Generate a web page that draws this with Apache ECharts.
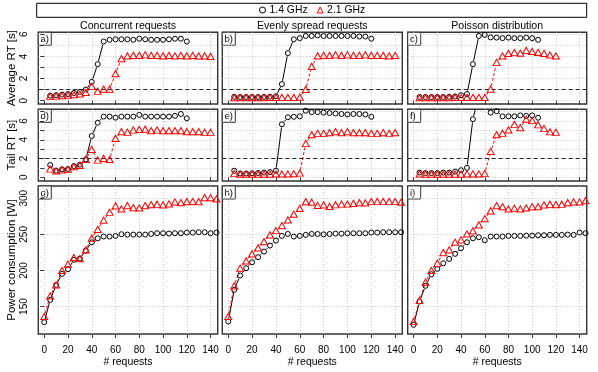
<!DOCTYPE html>
<html><head><meta charset="utf-8">
<script src="https://cdn.jsdelivr.net/npm/echarts@6/dist/echarts.min.js"></script>
<style>html,body{margin:0;padding:0;background:#fff}#c{width:598px;height:372px}</style>
</head><body><div id="c"></div>
<script>
// ---------- data ----------
const xRT = [5,10,15,20,25,30,35,40,45,50,55,60,65,70,75,80,85,90,95,100,105,110,115,120,125,130,135,140];
const xPow = [0,5,10,15,20,25,30,35,40,45,50,55,60,65,70,75,80,85,90,95,100,105,110,115,120,125,130,135,140,145];

const colTitles = ['Concurrent requests','Evenly spread requests','Poisson distribution'];
const rowNames = ['Average RT [s]','Tail RT [s]','Power consumption [W]'];
const panelTags = ['a)','b)','c)','d)','e)','f)','g)','h)','i)'];
const legendNames = ['1.4 GHz','2.1 GHz'];
const xTickVals = [0,20,40,60,80,100,120,140];
const avgTickVals = [0,2,4,6];
const avgMinorTicks = [0,1,2,3,4,5,6];
const tailTickVals = [0,2,4,6];
const tailMinorTicks = [0,1,2,3,4,5,6,7];
const powTickVals = [150,200,250,300];
const thresholds = [1, 2];

const avgConc14 = [0.45,0.5,0.55,0.6,0.7,0.8,1.0,1.7,3.3,5.35,5.5,5.55,5.55,5.55,5.5,5.6,5.55,5.5,5.5,5.5,5.55,5.6,5.6,5.35];
const avgConc21 = [0.4,0.42,0.45,0.5,0.55,0.62,0.75,1.3,0.85,1.05,1.05,2.45,3.8,4.05,4.1,4.1,4.15,4.1,4.1,4.05,4.1,4.05,4.1,4.05,4.1,4.05,4.05,4.0];
const avgEven14 = [0.35,0.33,0.33,0.33,0.33,0.34,0.36,0.4,1.5,4.3,5.55,5.65,5.85,5.85,5.9,5.85,5.85,5.85,5.85,5.85,5.85,5.8,5.8,5.6];
const avgEven21 = [0.28,0.28,0.28,0.28,0.28,0.28,0.29,0.29,0.3,0.3,0.3,0.32,1.02,3.1,4.05,4.1,4.1,4.15,4.1,4.15,4.1,4.1,4.15,4.1,4.1,4.1,4.05,4.1];
const avgPois14 = [0.33,0.33,0.33,0.33,0.33,0.35,0.38,0.5,0.6,3.3,5.85,5.95,5.72,5.7,5.65,5.7,5.65,5.65,5.7,5.65,5.5];
const avgPois21 = [0.28,0.28,0.28,0.28,0.28,0.28,0.29,0.29,0.3,0.3,0.3,0.3,1.05,3.45,4.04,4.28,4.35,4.3,4.55,4.45,4.37,4.28,4.13,4.04];

const tailConc14 = [1.31,0.7,0.85,0.88,1.2,1.34,1.91,4.4,5.82,6.47,6.47,6.36,6.47,6.47,6.47,6.65,6.47,6.47,6.47,6.47,6.47,6.55,6.75,6.29];
const tailConc21 = [0.88,0.67,0.78,0.85,1.13,1.27,1.91,2.98,1.84,2.02,1.91,4.15,4.87,4.8,5.04,5.1,5.14,4.97,5.04,4.97,4.97,4.97,4.97,4.87,4.87,4.87,4.8,4.8];
const tailEven14 = [0.7,0.4,0.4,0.42,0.45,0.5,0.55,0.7,5.65,6.4,6.45,6.5,7.1,6.95,6.95,6.9,6.85,6.8,6.75,6.7,6.75,6.75,6.7,6.45];
const tailEven21 = [0.4,0.33,0.33,0.33,0.33,0.33,0.33,0.35,0.35,0.35,0.38,0.45,3.6,4.55,4.69,4.69,4.76,4.87,4.76,4.87,4.76,4.76,4.76,4.69,4.69,4.76,4.69,4.76];
const tailPois14 = [0.5,0.45,0.45,0.45,0.5,0.5,0.6,0.75,1.0,6.2,8.8,7.5,6.9,7.05,6.5,6.5,6.5,6.6,6.55,6.6,6.35];
const tailPois21 = [0.35,0.33,0.33,0.33,0.33,0.33,0.33,0.33,0.35,0.35,0.35,0.4,2.75,4.55,4.69,5.05,5.65,5.3,6.19,6.05,5.6,5.2,4.85,4.8];

const powConc14 = [128.4,159.3,180,195.3,201.8,214.7,216.5,227.6,239,244.6,247,247,247.9,250.2,249.7,249.7,249.7,249.7,250.6,251.6,251.6,251.1,251.6,251.6,252.5,252.5,253,253,251.6,252.5];
const powConc21 = [136.3,164.9,180,200,208.7,218,216.5,228.5,244.6,257,269.6,280.6,289.4,285.2,289.9,287,286.6,289.9,291.2,291.7,290.8,292.2,294.9,294,295.4,295.8,295.4,300.9,300.9,299];
const powEven14 = [129.3,173.2,193,203.1,211.4,218.4,226.2,234.5,241.4,247.9,250.6,247,247.9,249.3,250.6,250.5,250,250.5,251,251,251.5,251.5,251.5,251.5,252.5,252.5,253,253,253,253];
const powEven21 = [136.3,178.7,203.1,213.3,223,231.3,240,249.3,255.3,262.2,270,277.9,286,295.4,294.5,290,290.8,288.7,291,292,292,293,294,293.5,295.5,295.5,295.5,295.5,295.5,294.5];
const powPois14 = [124.7,157,178.7,194.8,202.2,210,216,223,230.8,239.1,244.6,246,241.9,247,247,247,247.9,247.9,247.9,248.3,248.3,248.8,248.8,249.3,249.3,249.3,249.7,249.3,252.5,251.6];
const powPois21 = [129.3,158.4,183.8,200,210,224.8,228.5,239.1,242.3,250.6,254.8,263.1,271.9,282.5,289.9,288.5,285.2,286.2,285.2,286.6,288.5,288.5,290.8,291.7,291.2,291.7,294,294.9,294.9,296.8];

// ---------- layout / style ----------
const FONT = 'Liberation Sans, Arial, Helvetica, sans-serif';
const colL = [38.3, 222.3, 407.7];
const colW = [179.4, 180, 179];
const rowT = [32.3, 109.3, 186];
const rowH = [71.7, 71.7, 148];
const yMin = [-0.3, -0.4, 112];
const yMax = [6.18, 7.25, 317];
const yStep = [1, 1, 50];
const yLabelVals = [avgTickVals, tailTickVals, powTickVals];
const yTickVals = [avgMinorTicks, tailMinorTicks, powTickVals];
const BLACK = '#000000', RED = '#ff0000';

const panels = [
  [xRT, avgConc14, avgConc21], [xRT, avgEven14, avgEven21], [xRT, avgPois14, avgPois21],
  [xRT, tailConc14, tailConc21], [xRT, tailEven14, tailEven21], [xRT, tailPois14, tailPois21],
  [xPow, powConc14, powConc21], [xPow, powEven14, powEven21], [xPow, powPois14, powPois21]
];

function pts(xs, ys) { return ys.map((y, i) => [xs[i], y]); }
function segs(xs, ys) {
  const out = [];
  for (let i = 0; i < ys.length - 1; i++) out.push([xs[i], ys[i], xs[i + 1], ys[i + 1]]);
  return out;
}
function segRenderer(gap, color, dash) {
  return function (params, api) {
    const p0 = api.coord([api.value(0), api.value(1)]);
    const p1 = api.coord([api.value(2), api.value(3)]);
    const dx = p1[0] - p0[0], dy = p1[1] - p0[1];
    const d = Math.hypot(dx, dy);
    if (d <= 2 * gap + 0.5) return null;
    const ux = dx / d, uy = dy / d;
    const cs = params.coordSys;
    return {
      type: 'group',
      clipPath: { type: 'rect', shape: { x: cs.x, y: cs.y, width: cs.width, height: cs.height } },
      children: [{
        type: 'line',
        shape: { x1: p0[0] + ux * gap, y1: p0[1] + uy * gap, x2: p1[0] - ux * gap, y2: p1[1] - uy * gap },
        style: { stroke: color, lineWidth: 1, lineDash: dash }
      }]
    };
  };
}

const grids = [], xAxes = [], yAxes = [], series = [], graphics = [];
for (let r = 0; r < 3; r++) {
  for (let c = 0; c < 3; c++) {
    const idx = r * 3 + c;
    grids.push({ left: colL[c], top: rowT[r], width: colW[c], height: rowH[r], show: true,
      borderColor: '#333', borderWidth: 1.4, backgroundColor: 'transparent', containLabel: false });
    xAxes.push({
      type: 'value', gridIndex: idx, min: -5, max: 146, minInterval: 20, maxInterval: 20,
      axisLine: { show: false },
      axisTick: { show: true, length: 4, customValues: xTickVals, lineStyle: { color: '#333', width: 1 } },
      axisLabel: { show: r === 2, customValues: xTickVals, fontSize: 10, color: '#000', fontFamily: FONT, margin: 11 },
      splitLine: { show: true, lineStyle: { color: '#bdbdbd', width: 0.9, type: [1, 2] } },
      name: r === 2 ? '# requests' : '', nameLocation: 'middle', nameGap: 23,
      nameTextStyle: { fontSize: 10.5, color: '#000', fontFamily: FONT }
    });
    yAxes.push({
      type: 'value', gridIndex: idx, min: yMin[r], max: yMax[r], minInterval: yStep[r], maxInterval: yStep[r],
      axisLine: { show: false },
      axisTick: { show: c === 0, length: 4, customValues: yTickVals[r], lineStyle: { color: '#333', width: 1 } },
      axisLabel: { show: c === 0, customValues: yLabelVals[r], rotate: 90, fontSize: 10, color: '#000', fontFamily: FONT, margin: 9 },
      splitLine: { show: true, lineStyle: { color: '#bdbdbd', width: 0.9, type: [1, 2] } },
      name: c === 0 ? rowNames[r] : '', nameLocation: 'middle', nameGap: 20, nameRotate: 90,
      nameTextStyle: { fontSize: 11.5, color: '#000', fontFamily: FONT }
    });
    const [xs, y14, y21] = panels[idx];
    series.push({
      type: 'custom', xAxisIndex: idx, yAxisIndex: idx, clip: true, silent: true,
      renderItem: segRenderer(3.3, BLACK, null), data: segs(xs, y14), z: 3
    });
    series.push({
      type: 'custom', xAxisIndex: idx, yAxisIndex: idx, clip: true, silent: true,
      renderItem: segRenderer(3.3, RED, [3, 2]), data: segs(xs, y21), z: 3
    });
    series.push({
      type: 'scatter', name: legendNames[0], xAxisIndex: idx, yAxisIndex: idx, clip: true,
      symbol: 'circle', symbolSize: 5,
      itemStyle: { color: 'rgba(0,0,0,0)', borderColor: BLACK, borderWidth: 1, opacity: 1 },
      data: pts(xs, y14), z: 4, silent: true
    });
    const red = {
      type: 'scatter', name: legendNames[1], xAxisIndex: idx, yAxisIndex: idx, clip: true,
      symbol: 'triangle', symbolSize: [7, 6.2],
      itemStyle: { color: 'rgba(0,0,0,0)', borderColor: RED, borderWidth: 1, opacity: 1 },
      data: pts(xs, y21), z: 5, silent: true
    };
    if (r < 2) {
      red.markLine = {
        silent: true, symbol: 'none', label: { show: false },
        lineStyle: { color: '#222', width: 1.2, type: [4, 3] },
        data: [{ yAxis: thresholds[r] }]
      };
    }
    series.push(red);

    graphics.push({
      type: 'group', x: colL[c], y: rowT[r], z: 100,
      children: [
        { type: 'rect', shape: { x: 0, y: 0, width: 13, height: 13 }, style: { fill: '#fff', stroke: '#333', lineWidth: 1 } },
        { type: 'text', x: 2.2, y: 7, style: { text: panelTags[idx], font: '9.5px ' + FONT, fill: '#000', verticalAlign: 'middle' } }
      ]
    });
  }
}
for (let c = 0; c < 3; c++) {
  graphics.push({ type: 'text', x: colL[c] + colW[c] / 2, y: 26.5, z: 100,
    style: { text: colTitles[c], font: '10.6px ' + FONT, fill: '#000', align: 'center', verticalAlign: 'middle' } });
}
graphics.push({ type: 'rect', shape: { x: 36.7, y: 3.3, width: 550, height: 14 }, z: 50,
  style: { fill: 'none', stroke: '#000', lineWidth: 1 } });

const chart = echarts.init(document.getElementById('c'), null, { renderer: 'canvas' });
chart.setOption({
  animation: false,
  backgroundColor: '#fff',
  grid: grids, xAxis: xAxes, yAxis: yAxes, series: series, graphic: graphics,
  legend: {
    data: [
      { name: legendNames[0], icon: 'circle', itemStyle: { color: 'rgba(0,0,0,0)', borderColor: BLACK, borderWidth: 1 } },
      { name: legendNames[1], icon: 'triangle', itemStyle: { color: 'rgba(0,0,0,0)', borderColor: RED, borderWidth: 1 } }
    ],
    left: 259, top: 5, itemWidth: 6, itemHeight: 6, itemGap: 9, padding: 0,
    selectedMode: false,
    textStyle: { fontSize: 10.4, color: '#000', fontFamily: FONT, padding: [0, 0, 0, -1] }
  }
});
</script></body></html>
